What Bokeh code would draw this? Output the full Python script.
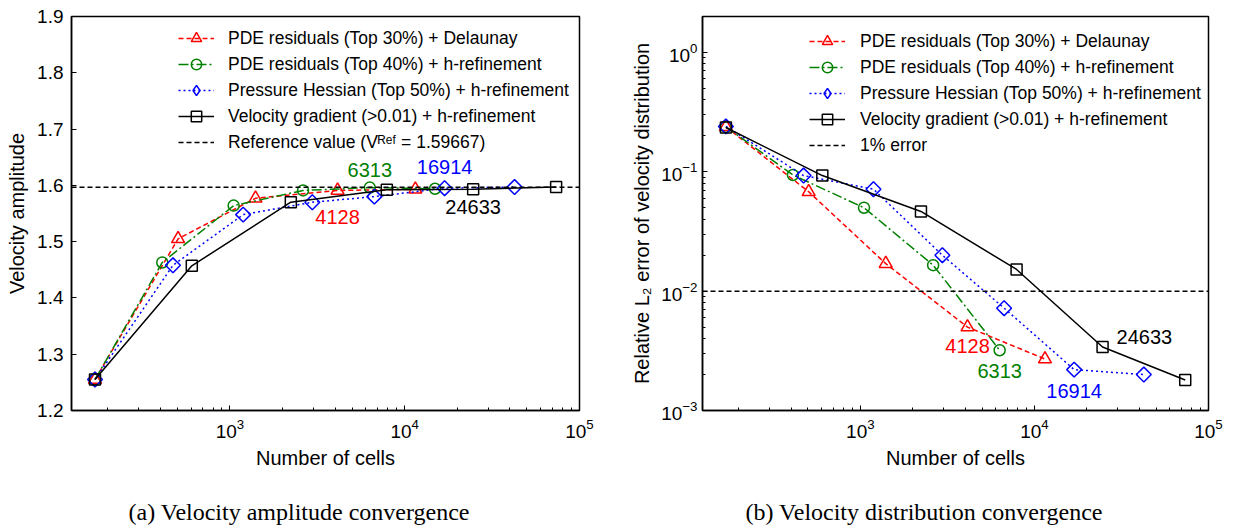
import math
from bokeh.plotting import figure
from bokeh.models import (Label, Legend, LegendItem, FixedTicker, LogTicker,
                          NumeralTickFormatter, Range1d)
from bokeh.layouts import row, column
from bokeh.embed import file_html
from bokeh.resources import INLINE

# ---------------- data ----------------
red_n = [169, 505, 1400, 4128, 11500]
red_amp = [1.255, 1.505, 1.577, 1.591, 1.593]
red_err = [0.238, 0.068, 0.017, 0.005, 0.0027]

green_n_amp = [169, 410, 1050, 2620, 6313, 14900]
green_amp = [1.255, 1.463, 1.564, 1.591, 1.596, 1.594]
green_n_err = [169, 410, 1050, 2620, 6313]
green_err = [0.238, 0.094, 0.050, 0.0165, 0.0032]

blue_n = [169, 472, 1190, 2960, 6700, 16914, 42500]
blue_amp = [1.255, 1.458, 1.548, 1.570, 1.580, 1.595, 1.597]
blue_err = [0.24, 0.093, 0.0715, 0.020, 0.0072, 0.0022, 0.0020]

black_n = [169, 605, 2230, 7900, 24633, 73500]
black_amp = [1.255, 1.457, 1.570, 1.592, 1.593, 1.597]
black_err = [0.235, 0.093, 0.0465, 0.0152, 0.0034, 0.0018]

ref_amp = 1.59667
ref_err = 0.01

x_limits = [124, 1e5]
amp_limits = [1.2, 1.9]
err_limits = [1e-3, 2.0]
amp_ticks = [1.2, 1.3, 1.4, 1.5, 1.6, 1.7, 1.8, 1.9]

series_labels = [
    "PDE residuals (Top 30%) + Delaunay",
    "PDE residuals (Top 40%) + h-refinement",
    "Pressure Hessian (Top 50%) + h-refinement",
    "Velocity gradient (>0.01) + h-refinement",
]
ref_label_a = "Reference value (V\u1d3f\u1d49\u1da0 = 1.59667)"
ref_label_b = "1% error"
captions = ["(a) Velocity amplitude convergence", "(b) Velocity distribution convergence"]

# ---------------- style ----------------
FONT = "Liberation Sans"
RED, GREEN, BLUE, BLACK = "#ff0000", "#008000", "#0000ff", "#000000"
PLOT_H = 490
CAP_H = 39
styles = [
    dict(color=RED, dash="5 3", marker="triangle", size=13, angle=0.0, legend_marker=None),
    dict(color=GREEN, dash="10 3 2 3", marker="circle", size=11, angle=0.0, legend_marker=None),
    dict(color=BLUE, dash="2 3", marker="square", size=10.5, angle=math.pi / 4,
         legend_marker="diamond"),
    dict(color=BLACK, dash="solid", marker="square", size=11, angle=0.0, legend_marker=None),
]


def base_fig(width, y_type, y_range, mb_left, mb_right, mb_top, frame_h):
    p = figure(width=width, height=PLOT_H, x_axis_type="log", y_axis_type=y_type,
               x_range=Range1d(*x_limits), y_range=Range1d(*y_range),
               output_backend="svg", toolbar_location=None,
               min_border_left=mb_left, min_border_right=mb_right,
               min_border_top=mb_top, min_border_bottom=PLOT_H - mb_top - frame_h)
    p.xgrid.visible = False
    p.ygrid.visible = False
    p.outline_line_color = "black"
    p.outline_line_width = 1.5
    p.outline_line_alpha = 1.0
    p.background_fill_color = "white"
    p.border_fill_color = "white"
    for ax in p.axis:
        ax.axis_line_width = 1.5
        ax.axis_line_color = "black"
        ax.major_tick_in = 5
        ax.major_tick_out = 0
        ax.minor_tick_in = 3
        ax.minor_tick_out = 0
        ax.major_tick_line_color = "black"
        ax.minor_tick_line_color = "black"
        ax.major_label_text_font = FONT
        ax.major_label_text_font_size = "19px"
        ax.major_label_text_color = "black"
        ax.axis_label_text_font = FONT
        ax.axis_label_text_font_size = "20px"
        ax.axis_label_text_font_style = "normal"
        ax.axis_label_text_color = "black"
    p.xaxis.ticker = LogTicker(num_minor_ticks=10)
    p.xaxis.axis_label = "Number of cells"
    p.xaxis.major_label_standoff = 8
    p.xaxis.axis_label_standoff = 6
    return p


def add_series(p, xs_list, ys_list):
    items = []
    for (xs, ys), st, lab in zip(zip(xs_list, ys_list), styles, series_labels):
        lr = p.line(xs, ys, line_color=st["color"], line_width=1.5, line_dash=st["dash"])
        sr = p.scatter(xs, ys, marker=st["marker"], size=st["size"], angle=st["angle"],
                       line_color=st["color"], fill_color=None, line_width=1.5)
        rends = [lr, sr]
        if st["legend_marker"]:
            # legend-only marker shape (zero size in the plot area)
            lm = p.scatter(xs, ys, marker=st["legend_marker"], size=0,
                           line_color=st["color"], fill_color=None, line_width=1.5)
            rends = [lr, lm]
        items.append(LegendItem(label=lab, renderers=rends))
    return items


def add_reference(p, level, label, items):
    r = p.line(x_limits, [level, level], line_color="black", line_dash="5 3", line_width=1.5)
    items.append(LegendItem(label=label, renderers=[r]))


def add_legend(p, items, loc, standoff):
    leg = Legend(items=items, location=loc, border_line_alpha=0, background_fill_alpha=0,
                 label_text_font=FONT, label_text_font_size="17.5px", label_text_color="black",
                 glyph_width=36, glyph_height=26, label_height=26, spacing=0,
                 padding=0, margin=0, label_standoff=standoff)
    p.add_layout(leg)


def caption_fig(width, text, x_left):
    c = figure(width=width, height=CAP_H, x_range=Range1d(0, 1), y_range=Range1d(0, 1),
               output_backend="svg", toolbar_location=None,
               x_axis_location=None, y_axis_location=None,
               min_border_left=0, min_border_right=0, min_border_top=0, min_border_bottom=0)
    c.xgrid.visible = False
    c.ygrid.visible = False
    c.outline_line_color = None
    c.background_fill_color = "white"
    c.border_fill_color = "white"
    c.add_layout(Label(x=x_left, y=18, x_units="screen", y_units="screen",
                       text=text, text_align="left", text_baseline="alphabetic",
                       text_font="Liberation Serif", text_font_size="24px",
                       text_color="black"))
    return c


def note(p, x, y, text, color, xo=0, yo=0, align="center"):
    p.add_layout(Label(x=x, y=y, text=text, x_offset=xo, y_offset=yo, text_align=align,
                       text_baseline="middle", text_color=color, text_font=FONT,
                       text_font_size="20px"))


# ---------------- (a) ----------------
p1 = base_fig(620, "linear", amp_limits, 71, 41, 15, 395)
p1.yaxis.ticker = FixedTicker(ticks=amp_ticks, minor_ticks=[])
p1.yaxis.formatter = NumeralTickFormatter(format="0.0")
p1.yaxis.axis_label = "Velocity amplitude"
p1.yaxis.major_label_standoff = 8
p1.yaxis.axis_label_standoff = 6

items1 = add_series(p1, [red_n, green_n_amp, blue_n, black_n],
                    [red_amp, green_amp, blue_amp, black_amp])
add_reference(p1, ref_amp, ref_label_a, items1)
add_legend(p1, items1, (107, 255), 14)

note(p1, green_n_amp[4], green_amp[4], "6313", GREEN, yo=18)
note(p1, blue_n[5], blue_amp[5], "16914", BLUE, yo=21)
note(p1, red_n[3], red_amp[3], "4128", RED, yo=-27)
note(p1, black_n[4], black_amp[4], "24633", BLACK, yo=-18)

# ---------------- (b) ----------------
p2 = base_fig(613, "log", err_limits, 82, 25, 16, 394)
p2.yaxis.ticker = LogTicker(num_minor_ticks=10)
p2.yaxis.axis_label = "Relative L\u2082 error of velocity distribution"
p2.yaxis.major_label_standoff = 5
p2.yaxis.axis_label_standoff = 5

items2 = add_series(p2, [red_n, green_n_err, blue_n, black_n],
                    [red_err, green_err, blue_err, black_err])
add_reference(p2, ref_err, ref_label_b, items2)
add_legend(p2, items2, (107, 252), 15)

note(p2, black_n[4], black_err[4], "24633", BLACK, xo=14, yo=10, align="left")
note(p2, red_n[3], red_err[3], "4128", RED, yo=-19)
note(p2, green_n_err[4], green_err[4], "6313", GREEN, yo=-21)
note(p2, blue_n[5], blue_err[5], "16914", BLUE, yo=-21)

c1 = caption_fig(620, captions[0], 128)
c2 = caption_fig(613, captions[1], 125)

layout = column(row(p1, p2), row(c1, c2))
open("out.html", "w").write(file_html(layout, INLINE))
